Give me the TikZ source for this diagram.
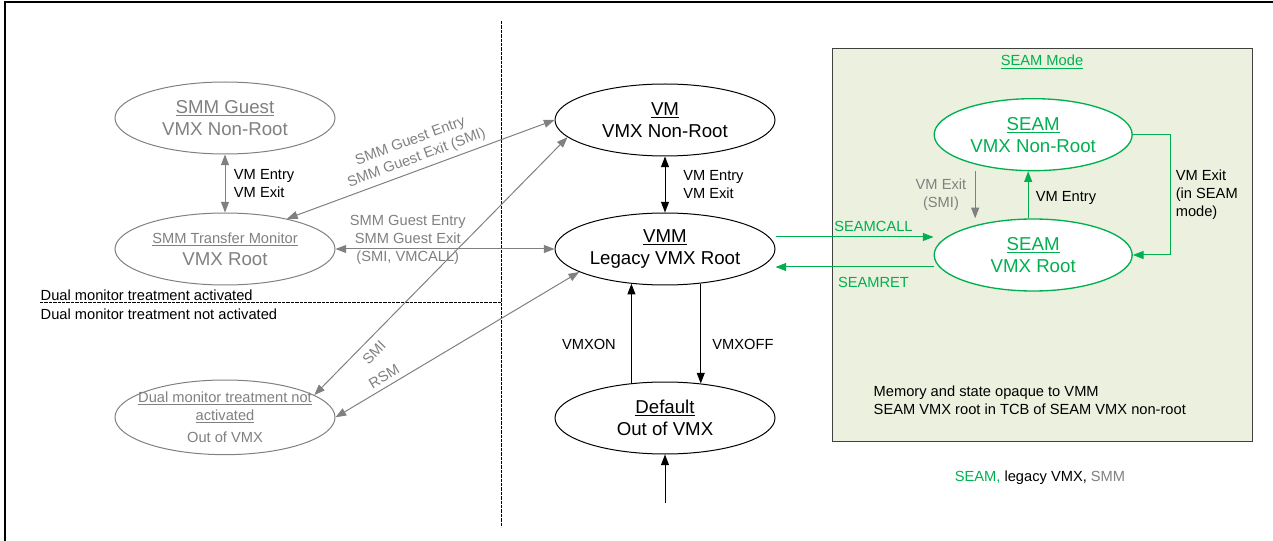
\documentclass[tikz,border=0pt]{standalone}
\usepackage{fontspec}
\setmainfont{Liberation Sans}
\usetikzlibrary{shapes.geometric, arrows.meta, positioning, calc}

\definecolor{smmgray}{RGB}{128,128,128}
\definecolor{seamgreen}{RGB}{0,176,80}
\definecolor{seamfill}{RGB}{235,241,222}
\definecolor{boxedge}{RGB}{64,64,64}

\newcommand{\vmxbig}{\fontsize{14}{16.5}\selectfont}
\newcommand{\vmxsmall}{\fontsize{11}{13.5}\selectfont}

\begin{document}
\begin{tikzpicture}[
    x=0.75pt, y=0.75pt,
    state/.style={ellipse, minimum width=165pt, minimum height=54pt, inner sep=0pt, align=center, draw=black, line width=0.75pt, font=\vmxbig},
    smmstate/.style={state, draw=smmgray, text=smmgray},
    seamstate/.style={state, draw=seamgreen, text=seamgreen, fill=white, line width=1pt, minimum width=148.5pt},
    lbl/.style={font=\vmxsmall, align=center},
    arrow/.style={->, >={Triangle[length=8pt, width=6pt]}, line width=0.75pt},
    twoway/.style={<->, >={Triangle[length=8pt, width=6pt]}, line width=0.75pt},
    divider/.style={black, line width=0.75pt, dash pattern=on 2.5pt off 0.8pt}
]

\useasboundingbox (0,0) rectangle (1273,-541);

% Frame
\draw[line width=2pt] (5,-541) -- (5,-2) -- (1273,-2);

% SEAM mode region
\node[draw=boxedge, fill=seamfill, line width=0.75pt, minimum width=315pt, minimum height=294pt, inner sep=0pt] (seam-mode) at (1042,-245) {};
\node[lbl, seamgreen, below=2 of seam-mode.north] (seam-title) {\underline{SEAM Mode}};

% Dividers
\draw[divider] (501,-21) -- (501,-527);
\draw[divider] (40,-303) -- (501,-303);
\node[lbl, anchor=west] (dual-on-txt) at (36,-295) {Dual monitor treatment activated};
\node[lbl, anchor=west] (dual-off-txt) at (36,-314) {Dual monitor treatment not activated};

% Legacy VMX
\node[state] (vm) at (665,-120) {\underline{VM}\\VMX Non-Root};
\node[state, below=56 of vm] (vmm) {\underline{VMM}\\Legacy VMX Root};
\node[state, below=96 of vmm] (default) {\underline{Default}\\Out of VMX};
\coordinate[below=48 of default] (power-on);

% SMM
\node[smmstate, left=219 of vmm] (smm-stm) {{\vmxsmall\underline{SMM Transfer Monitor}}\\VMX Root};
\node[smmstate, above=58 of smm-stm] (smm-guest) {\underline{SMM Guest}\\VMX Non-Root};
\node[smmstate, below=94 of smm-stm, font=\vmxsmall, inner xsep=-9pt, minimum height=56pt] (dual-off) {\underline{Dual monitor treatment not}\\\underline{activated}\\[3pt]Out of VMX};

% SEAM
\node[seamstate, right=158 of vmm, yshift=-4.5pt] (seam-root) {\underline{SEAM}\\VMX Root};
\node[seamstate, above=47 of seam-root] (seam-nr) {\underline{SEAM}\\VMX Non-Root};

% Notes
\node[lbl, align=left, anchor=west] (opaque) at (869,-400) {Memory and state opaque to VMM\\SEAM VMX root in TCB of SEAM VMX non-root};
\node[lbl] (legend) at (1040,-478) {\textcolor{seamgreen}{SEAM,} legacy VMX, \textcolor{smmgray}{SMM}};

% SMM arrows
\draw[twoway, smmgray] (smm-guest.south) -- (smm-stm.north) node[midway, right=3pt, lbl, align=left, text=black] {VM Entry\\VM Exit};
\draw[twoway, smmgray] (smm-stm.26) -- (vm.west) node[midway, above, sloped, lbl] {SMM Guest Entry\\SMM Guest Exit (SMI)};
\draw[twoway, smmgray] (smm-stm.east) -- (vmm.west) node[pos=0.33, yshift=7pt, lbl] {SMM Guest Entry\\SMM Guest Exit\\(SMI, VMCALL)};
\draw[twoway, smmgray] (dual-off.14) -- (vm.190) node[pos=0.2, below=2pt, sloped, lbl] {SMI};
\draw[twoway, smmgray] (dual-off.east) -- (vmm.195) node[pos=0.22, above, sloped, lbl] {RSM};

% Legacy VMX arrows
\draw[twoway] (vm.south) -- (vmm.north) node[midway, right=10pt, lbl, align=left] {VM Entry\\VM Exit};
\draw[arrow] (default.134) -- (vmm.226) node[pos=0.39, left=8pt, lbl] {VMXON};
\draw[arrow] (vmm.316) -- (default.44) node[pos=0.61, right=5pt, lbl] {VMXOFF};
\draw[arrow] (power-on) -- (default.south);

% SEAM arrows
\draw[arrow, seamgreen] ([yshift=9pt]vmm.east) -- ([yshift=9pt]vmm.east -| seam-root.west) node[pos=0.62, above, lbl] {SEAMCALL};
\draw[arrow, seamgreen] ([yshift=-9pt]seam-root.west) -- ([yshift=-9pt]seam-root.west -| vmm.east) node[pos=0.38, below=4pt, lbl] {SEAMRET};
\draw[arrow, smmgray] ([xshift=-43.5pt]seam-nr.south) -- ([xshift=-43.5pt]seam-nr.south |- seam-root.north) node[midway, left=3pt, lbl] {VM Exit\\(SMI)};
\draw[arrow, seamgreen] ([xshift=-3.75pt]seam-root.north) -- ([xshift=-3.75pt]seam-root.north |- seam-nr.south) node[pos=0.43, right=2pt, lbl, text=black] {VM Entry};
\draw[arrow, seamgreen] (seam-nr.east) -- ++(38,0) |- (seam-root.east) node[pos=0.25, right, lbl, align=left, text=black] {VM Exit\\(in SEAM\\mode)};

\end{tikzpicture}
\end{document}
